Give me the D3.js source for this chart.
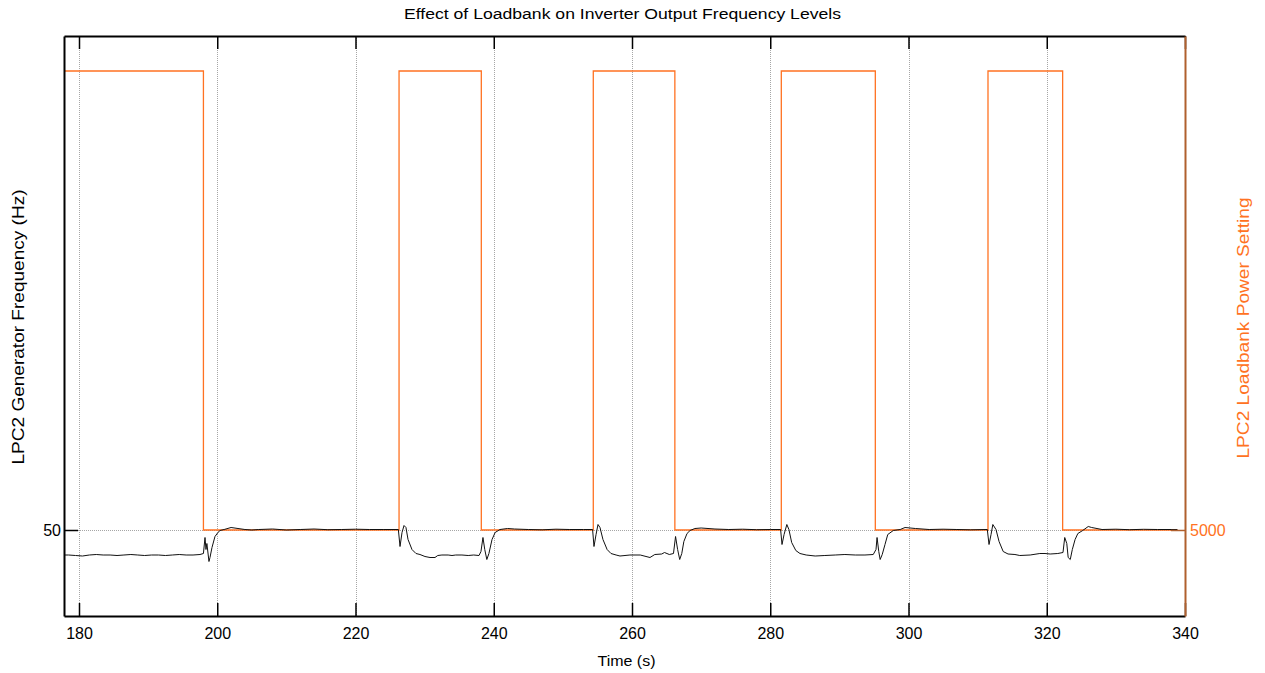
<!DOCTYPE html>
<html><head><meta charset="utf-8">
<script src="https://cdn.jsdelivr.net/npm/d3@7"></script>
<style>
html,body{margin:0;padding:0;background:#fff;}
svg{display:block;font-family:"Liberation Sans",Arial,sans-serif;}
</style></head>
<body><svg id="chart" width="1265" height="673"></svg>
<script>
// ---- data ----
const timeTicks = [180, 200, 220, 240, 260, 280, 300, 320, 340];
const freqTicks = [50];
const loadTicks = [5000];
const timeDomain = [177.83, 340];
const freqDomain = [49.14, 54.94];
const loadDomain = [4063, 10381];

const loadTimes  = [177.83, 198.0, 226.3, 238.2, 254.4, 266.2, 281.6, 295.2, 311.5, 322.3, 338.9];
const loadValues = [10000, 5000, 10000, 5000, 10000, 5000, 10000, 5000, 10000, 5000, 5000];

const freqTimes = [
 177.83,178.5,179.5,180.5,181.5,182.5,183.5,184.5,185.5,186.5,187.5,188.5,189.5,190.5,191.5,192.5,193.5,194.5,195.5,196.5,197.5,198.0,
 198.23,198.37,198.5,198.8,198.95,199.24,199.67,200.1,200.4,201,202,203,204,205,206,208,210,212,214,216,218,220,222,224,226.2,
 226.44,226.73,227.02,227.3,227.6,228.17,228.75,229.33,230.05,230.78,231.5,231.9,232.5,233.4,233.96,234.5,235.4,236.3,237.1,237.87,
 238.15,238.44,238.7,239.0,239.3,239.75,240.2,240.9,242,243,245,247,249,251,253,254.3,
 254.5,254.8,255.08,255.37,255.8,256.4,256.96,257.7,258.26,259.7,261.2,262.6,263.3,264.3,264.7,265.4,266.0,
 266.3,266.6,266.9,267.2,267.5,267.96,268.4,269.1,270,272,274,276,278,280,281.5,
 281.7,282.0,282.4,282.7,283.1,283.7,284.3,285.2,286.5,287.9,289.4,290.8,292.3,293.7,294.9,
 295.3,295.45,295.7,295.9,296.2,296.6,297.0,297.8,298.8,299.5,301,303,305,307,309,311.4,
 311.65,311.94,312.2,312.66,313.1,313.7,314.4,315.4,316.1,317.6,319.0,319.75,320.5,321.6,322.35,
 322.6,322.9,323.1,323.4,323.7,324.1,324.5,325.2,326.0,326.5,328,330,332,334,336,338.9
];
const freqValues = [
 49.745,49.745,49.74,49.735,49.745,49.75,49.745,49.745,49.74,49.745,49.75,49.745,49.74,49.745,49.745,49.74,49.745,49.75,49.745,49.745,49.75,49.76,
 49.92,49.80,49.86,49.68,49.72,49.82,49.93,49.97,49.99,50.0,50.02,50.01,50.0,49.995,50.0,50.005,49.995,50.0,50.005,49.998,50.0,50.003,50.0,50.0,50.0,
 49.83,49.97,50.04,50.02,49.90,49.80,49.76,49.75,49.73,49.72,49.72,49.74,49.745,49.745,49.74,49.745,49.745,49.74,49.745,49.74,
 49.78,49.92,49.80,49.70,49.76,49.90,49.97,50.0,50.01,50.005,50.0,49.997,50.003,50.0,50.0,50.0,
 49.83,49.95,50.05,50.02,49.90,49.80,49.76,49.745,49.735,49.745,49.745,49.72,49.75,49.755,49.77,49.75,49.76,
 49.93,49.80,49.70,49.76,49.88,49.96,49.99,50.01,50.015,50.005,50.0,50.003,49.998,50.0,50.0,
 49.85,49.95,50.05,50.0,49.87,49.79,49.76,49.745,49.735,49.74,49.745,49.75,49.745,49.745,49.75,
 49.80,49.92,49.78,49.70,49.75,49.85,49.95,49.99,50.0,50.02,50.01,50.0,50.003,50.0,49.997,50.0,
 49.85,49.95,50.05,50.0,49.88,49.78,49.755,49.75,49.74,49.745,49.76,49.76,49.755,49.76,49.77,
 49.92,49.86,49.72,49.70,49.80,49.90,49.96,49.99,50.03,50.02,50.0,50.003,49.998,50.002,50.0,50.0
];

const titleText = "Effect of Loadbank on Inverter Output Frequency Levels";
const xLabel = "Time (s)";
const yLabelLeft = "LPC2 Generator Frequency (Hz)";
const yLabelRight = "LPC2 Loadbank Power Setting";

// ---- layout ----
const L = 64, R = 1185, T = 36, B = 616;
const orange = "#ff7222";
const svg = d3.select("#chart");

const x = d3.scaleLinear().domain(timeDomain).range([L, R]);
const yL = d3.scaleLinear().domain(freqDomain).range([B, T]);
const yR = d3.scaleLinear().domain(loadDomain).range([B, T]);

// grid
const grid = svg.append("g").attr("stroke", "#a6a6a6").attr("stroke-width", 1)
  .attr("stroke-dasharray", "1,1").attr("shape-rendering", "crispEdges");
grid.selectAll("line.v").data(timeTicks.filter(t => x(t) < R - 1)).enter().append("line")
  .attr("x1", d => Math.round(x(d)) + 0.5).attr("x2", d => Math.round(x(d)) + 0.5)
  .attr("y1", T).attr("y2", B);
grid.selectAll("line.h").data(freqTicks).enter().append("line")
  .attr("x1", L).attr("x2", R)
  .attr("y1", d => Math.round(yL(d)) + 0.5).attr("y2", d => Math.round(yL(d)) + 0.5);

// orange step series
const loadData = loadTimes.map((t, i) => [t, loadValues[i]]);
svg.append("path").datum(loadData)
  .attr("fill", "none").attr("stroke", orange).attr("stroke-width", 1.3)
  .attr("d", d3.line().x(d => x(d[0])).y(d => yR(d[1])).curve(d3.curveStepAfter));

// black frequency series
const freqData = freqTimes.map((t, i) => [t, freqValues[i]]);
svg.append("path").datum(freqData)
  .attr("fill", "none").attr("stroke", "#111").attr("stroke-width", 1)
  .attr("stroke-linejoin", "round")
  .attr("d", d3.line().x(d => x(d[0])).y(d => yL(d[1]) - 0.5));

// axes
const tickFont = "16px";
const xb = svg.append("g").attr("transform", `translate(0,${B})`)
  .call(d3.axisBottom(x).tickValues(timeTicks).tickSizeInner(-13).tickSizeOuter(0).tickPadding(17).tickFormat(d3.format("d")));
const xt = svg.append("g").attr("transform", `translate(0,${T})`)
  .call(d3.axisTop(x).tickValues(timeTicks).tickSizeInner(-13).tickSizeOuter(0).tickFormat(""));
const yl = svg.append("g").attr("transform", `translate(${L},0)`)
  .call(d3.axisLeft(yL).tickValues(freqTicks).tickSizeInner(-14).tickSizeOuter(0).tickPadding(3).tickFormat(d3.format("d")));
const yr = svg.append("g").attr("transform", `translate(${R},0)`)
  .call(d3.axisRight(yR).tickValues(loadTicks).tickSizeInner(-14).tickSizeOuter(0).tickPadding(5).tickFormat(d3.format("d")));

[xb, xt, yl].forEach(g => {
  g.selectAll(".domain").attr("stroke", "#000").attr("stroke-width", 2);
  g.selectAll(".tick line").attr("stroke", "#000").attr("stroke-width", 1.5);
  g.selectAll("text").attr("font-size", tickFont).attr("fill", "#000")
    .attr("font-family", "Liberation Sans, Arial, sans-serif");
});
xb.selectAll("text").attr("dy", "0.35em");
yr.selectAll(".domain").attr("stroke", "#b0602e").attr("stroke-width", 2);
yr.selectAll(".tick line").attr("stroke", "#b0602e").attr("stroke-width", 1.5);
yr.selectAll("text").attr("font-size", tickFont).attr("fill", orange)
  .attr("font-family", "Liberation Sans, Arial, sans-serif");

// labels
svg.append("text").attr("x", (L + R) / 2 - 2).attr("y", 19).attr("text-anchor", "middle")
  .attr("font-size", "14px").attr("fill", "#000")
  .attr("textLength", 437).attr("lengthAdjust", "spacingAndGlyphs").text(titleText);
svg.append("text").attr("x", (L + R) / 2 + 2).attr("y", 666).attr("text-anchor", "middle")
  .attr("font-size", "15px").attr("fill", "#000")
  .attr("textLength", 58).attr("lengthAdjust", "spacingAndGlyphs").text(xLabel);
svg.append("text").attr("transform", `translate(24,${(T + B) / 2 + 1}) rotate(-90)`)
  .attr("text-anchor", "middle").attr("font-size", "16px").attr("fill", "#000")
  .attr("textLength", 275).attr("lengthAdjust", "spacingAndGlyphs").text(yLabelLeft);
svg.append("text").attr("transform", `translate(1249,${(T + B) / 2 + 2}) rotate(-90)`)
  .attr("text-anchor", "middle").attr("font-size", "16px").attr("fill", orange)
  .attr("textLength", 261).attr("lengthAdjust", "spacingAndGlyphs").text(yLabelRight);
</script></body></html>
